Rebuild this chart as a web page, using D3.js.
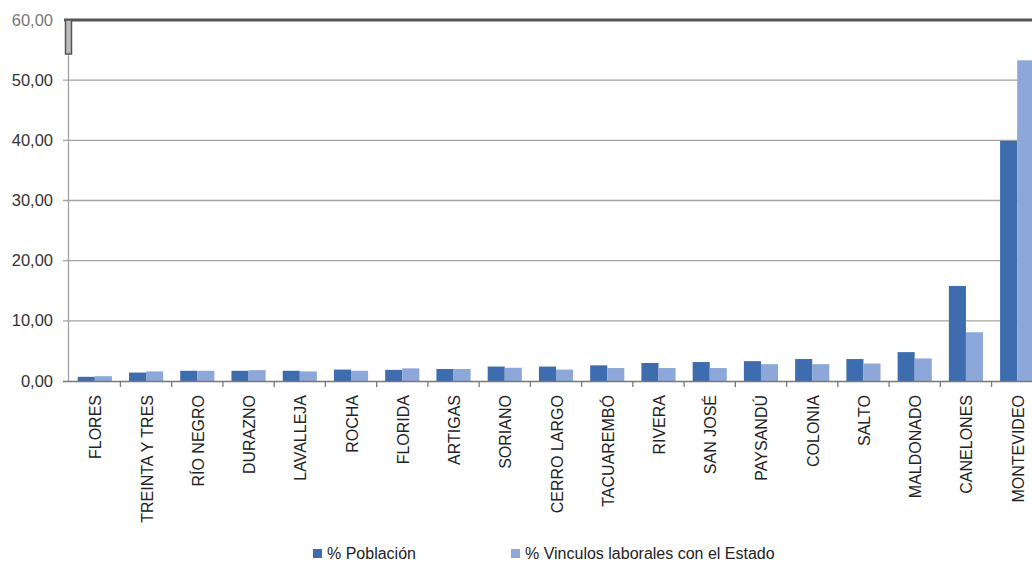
<!DOCTYPE html>
<html><head><meta charset="utf-8">
<script src="https://cdn.jsdelivr.net/npm/d3@7"></script>
<style>body{margin:0;background:#fff;overflow:hidden}svg{display:block;font-family:"Liberation Sans",Arial,sans-serif}</style>
</head><body><svg id="c" width="1032" height="564"></svg>
<script>
const categories = ["FLORES","TREINTA Y TRES","RÍO NEGRO","DURAZNO","LAVALLEJA","ROCHA","FLORIDA","ARTIGAS","SORIANO","CERRO LARGO","TACUAREMBÓ","RIVERA","SAN JOSÉ","PAYSANDÚ","COLONIA","SALTO","MALDONADO","CANELONES","MONTEVIDEO"];
const poblacion = [0.7,1.4,1.7,1.7,1.7,1.9,1.85,2.0,2.4,2.4,2.6,3.0,3.15,3.3,3.65,3.65,4.8,15.8,39.9];
const vinculos = [0.8,1.6,1.7,1.8,1.6,1.7,2.1,2.0,2.2,1.9,2.15,2.15,2.15,2.8,2.8,2.9,3.75,8.1,53.3];
const seriesNames = ["% Población","% Vinculos laborales con el Estado"];
const yTicks = [0,10,20,30,40,50,60];
const colors = ["#3d6daf","#8ca7d8"];

const svg = d3.select("#c");
const y = d3.scaleLinear().domain([0,60]).range([381,20]);
const x0 = d3.scaleBand().domain(categories).range([69.2,1042.8]).padding(0);
const x1 = d3.scaleBand().domain([0,1]).range([0,x0.bandwidth()]).paddingInner(0).paddingOuter(0.5);
const fmt = v => v.toFixed(2).replace(".", ",");

// gridlines + y labels
const g = svg.append("g");
g.selectAll("line.grid").data(yTicks.filter(t=>t>0 && t<60)).join("line")
  .attr("x1",63).attr("x2",1032).attr("y1",d=>y(d)).attr("y2",d=>y(d))
  .attr("stroke","#a3a3a3").attr("stroke-width",1.3);
g.selectAll("text.yl").data(yTicks).join("text")
  .attr("x",53).attr("y",d=>y(d)+5.5).attr("text-anchor","end")
  .attr("font-size",16.5).attr("fill",d=>d===60?"#777":"#333").text(fmt);

// bars
const bars = svg.append("g");
categories.forEach((c,i)=>{
  [poblacion[i],vinculos[i]].forEach((v,s)=>{
    bars.append("rect").attr("x",x0(c)+x1(s)).attr("width",x1.bandwidth())
      .attr("y",y(v)).attr("height",y(0)-y(v)).attr("fill",colors[s]);
  });
});

// y axis line
svg.append("line").attr("x1",68.5).attr("x2",68.5).attr("y1",20).attr("y2",381)
  .attr("stroke","#a0a0a0").attr("stroke-width",1.3);
// top frame
svg.append("line").attr("x1",64).attr("x2",1032).attr("y1",y(60)).attr("y2",y(60))
  .attr("stroke","#555").attr("stroke-width",3);
svg.append("rect").attr("x",65.5).attr("y",y(60)).attr("width",6).attr("height",34)
  .attr("fill","#bbb").attr("stroke","#555").attr("stroke-width",1.5);

// x axis
svg.append("line").attr("x1",63).attr("x2",1032).attr("y1",381.5).attr("y2",381.5)
  .attr("stroke","#777").attr("stroke-width",1.3);
svg.selectAll("line.xt").data(categories.slice(1)).join("line")
  .attr("x1",d=>x0(d)).attr("x2",d=>x0(d)).attr("y1",381).attr("y2",387)
  .attr("stroke","#777").attr("stroke-width",1.3);
svg.selectAll("text.xl").data(categories).join("text")
  .attr("transform",d=>`translate(${x0(d)+x0.bandwidth()/2+6.5},395) rotate(-90)`)
  .attr("text-anchor","end").attr("font-size",16).attr("fill","#222").text(d=>d);

// legend
const lx = [313,511];
seriesNames.forEach((n,i)=>{
  svg.append("rect").attr("x",lx[i]).attr("y",549).attr("width",9).attr("height",9).attr("fill",colors[i]);
  svg.append("text").attr("x",lx[i]+14).attr("y",559).attr("font-size",16).attr("fill","#222").text(n);
});
</script></body></html>
